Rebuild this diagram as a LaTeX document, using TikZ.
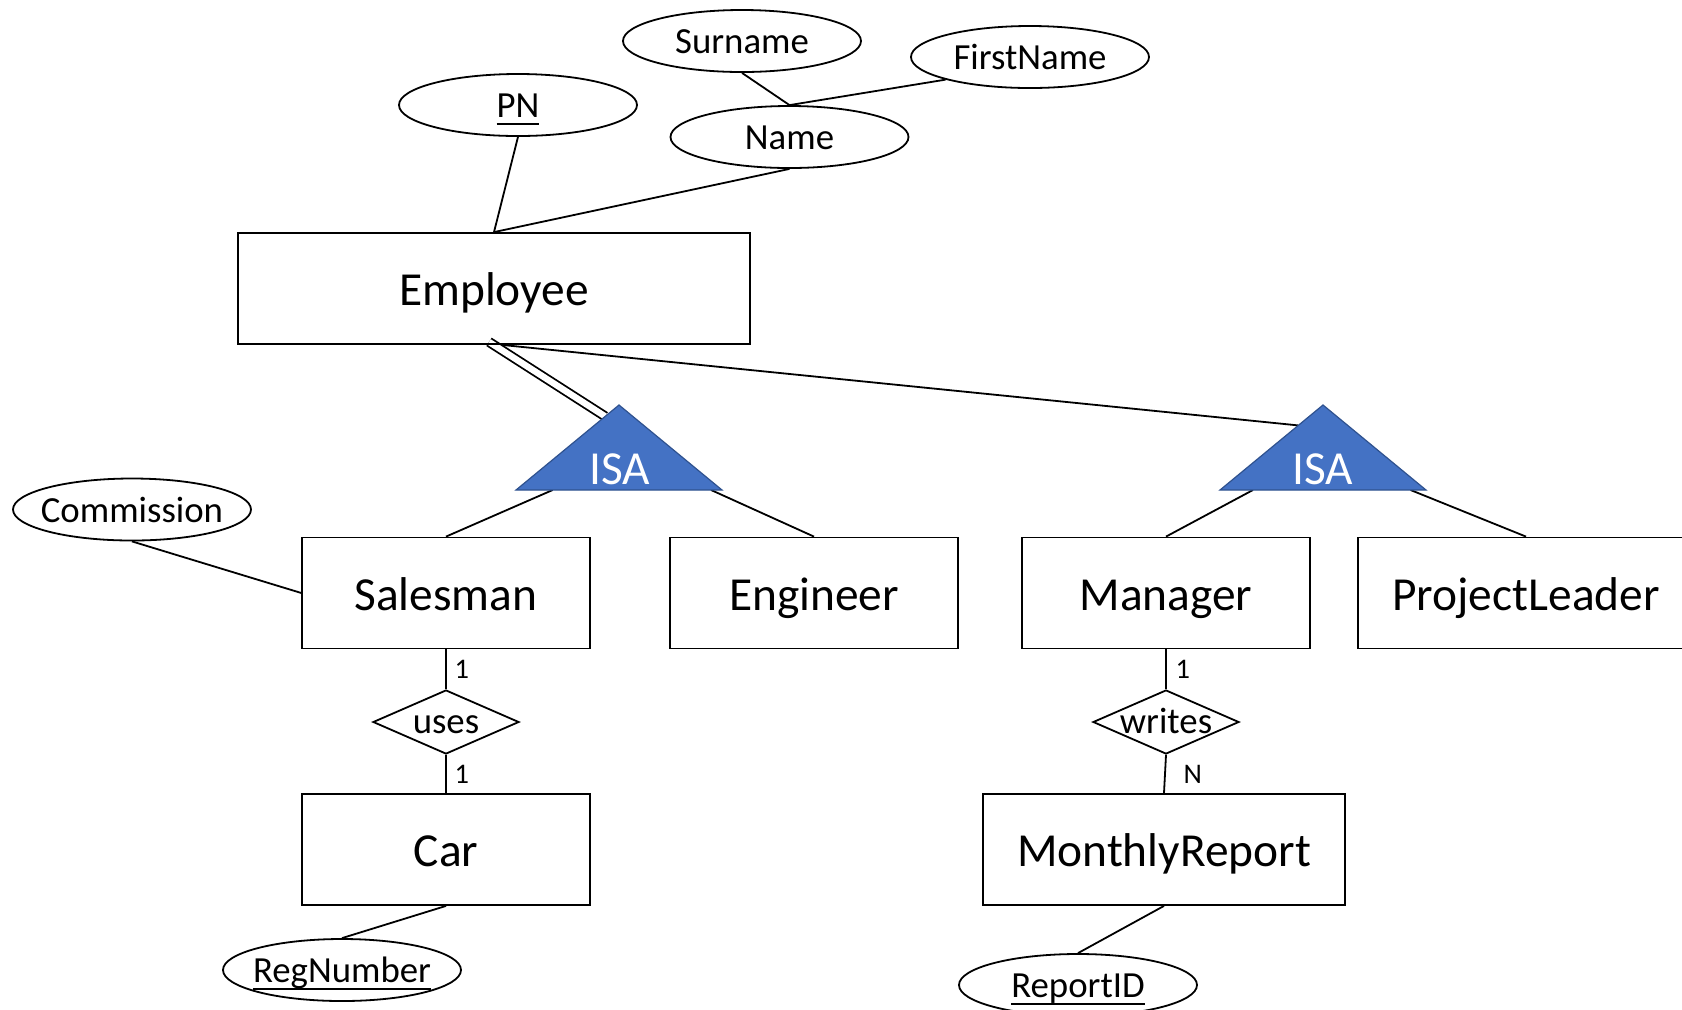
\documentclass[tikz,border=0pt]{standalone}
\usepackage{fontspec}
\setmainfont{Carlito}
\usetikzlibrary{shapes.geometric,calc}
\definecolor{isablue}{RGB}{68,114,196}
\definecolor{isaedge}{RGB}{47,82,143}
\pgfdeclarelayer{bg}
\pgfsetlayers{bg,main}
% key attribute: text with a thick rule beneath it
\newcommand\keytext[1]{\setbox0\hbox{#1}\rlap{\rule[-3.8pt]{\wd0}{1.4pt}}\box0}

\begin{document}
\begin{tikzpicture}[x=0.5pt,y=-0.5pt,
  every node/.style={inner sep=0pt},
  line/.style={line width=0.9pt},
  ent/.style={draw, line width=0.9pt, minimum height=55.5pt,
    font=\fontsize{23.7}{28}\selectfont, text height=17pt, text depth=0pt},
  attr/.style={draw, ellipse, line width=0.9pt, minimum width=119pt, minimum height=31pt,
    font=\fontsize{18.4}{22}\selectfont, text height=12.8pt, text depth=0pt},
  rel/.style={draw, diamond, line width=0.9pt, minimum width=73pt, minimum height=32pt,
    font=\fontsize{18.4}{22}\selectfont, text height=11.6pt, text depth=0pt},
  card/.style={font=\fontsize{14.2}{17}\selectfont, text height=9.6pt, text depth=0pt},
  isa/.style={fill=isablue, draw=isaedge, line width=0.6pt, line join=miter},
  isatext/.style={text=white, font=\fontsize{23.7}{28}\selectfont, anchor=base}
]
\path[use as bounding box] (0,0) rectangle (1682,1009);
\clip (0,0) rectangle (1682,1009);

% entities
\node[ent, minimum width=256pt]    (emp)  at (494,288.5)  {Employee};
\node[ent, minimum width=143.75pt] (sal)  at (446,593)    {Salesman};
\node[ent, minimum width=143.75pt] (eng)  at (814,593)    {Engineer};
\node[ent, minimum width=144pt]    (man)  at (1166,593)   {Manager};
\node[ent, minimum width=168pt]    (pl)   at (1526,593)   {ProjectLeader};
\node[ent, minimum width=143.75pt] (car)  at (446,849.5)  {Car};
\node[ent, minimum width=181.2pt]  (mr)   at (1164,849.5) {MonthlyReport};

% attributes
\node[attr] (pn)    at (518,105)   {\makebox[0pt]{\keytext{PN}}};
\node[attr] (sur)   at (742,41)    {\makebox[0pt]{Surname}};
\node[attr] (first) at (1030,57)   {\makebox[0pt]{FirstName}};
\node[attr] (name)  at (789.5,137) {\makebox[0pt]{Name}};
\node[attr] (comm)  at (132,509.5) {\makebox[0pt]{Commission}};
\node[attr] (reg)   at (342,970)   {\makebox[0pt]{\keytext{RegNumber}}};
\node[attr] (rid)   at (1078,985)  {\makebox[0pt]{\keytext{ReportID}}};

% relationships
\node[rel] (uses)   at (446,722)  {\makebox[0pt]{uses}};
\node[rel] (writes) at (1166,722) {\makebox[0pt]{writes}};

% ISA triangles
\coordinate (isaA-top)   at (619,405);
\coordinate (isaA-left)  at (516,490);
\coordinate (isaA-right) at (722,490);
\path[isa] (isaA-top) -- (isaA-left) -- (isaA-right) -- cycle;
\node[isatext] (isaA) at (620,484) {ISA};

\coordinate (isaB-top)   at (1323,405);
\coordinate (isaB-left)  at (1220,490);
\coordinate (isaB-right) at (1426,490);
\path[isa] (isaB-top) -- (isaB-left) -- (isaB-right) -- cycle;
\node[isatext] (isaB) at (1323,484) {ISA};

% connectors
\begin{pgfonlayer}{bg}
\draw[line] (pn.south) -- (emp.north);
\draw[line] (name.south) -- (emp.north);
\draw[line] (sur.south) -- (name.north);
\draw[line] (first.-165) -- (name.north);
\draw[line] (comm.south) -- (sal.west);
\draw[line, double, double distance=3.2pt] ($(emp.south)+(-5,-3)$) -- ($(isaA-top)!0.134!(isaA-left)$);
\draw[line] ($(emp.south)+(8,0)$) -- ($(isaB-top)!0.24!(isaB-left)$);
\draw[line] ($(isaA-left)!0.178!(isaA-right)$) -- (sal.north);
\draw[line] ($(isaA-left)!0.947!(isaA-right)$) -- (eng.north);
\draw[line] ($(isaB-left)!0.160!(isaB-right)$) -- (man.north);
\draw[line] ($(isaB-left)!0.925!(isaB-right)$) -- (pl.north);
\draw[line] (sal.south) -- node[card, right=3.9pt] {1} (uses.north);
\draw[line] (uses.south) -- node[card, right=3.9pt] {1} (car.north);
\draw[line] (man.south) -- node[card, right=4.4pt] {1} (writes.north);
\draw[line] (writes.south) -- node[card, right=8.9pt] {N} (mr.north);
\draw[line] (car.south) -- (reg.north);
\draw[line] (mr.south) -- (rid.north);
\end{pgfonlayer}
\end{tikzpicture}
\end{document}
